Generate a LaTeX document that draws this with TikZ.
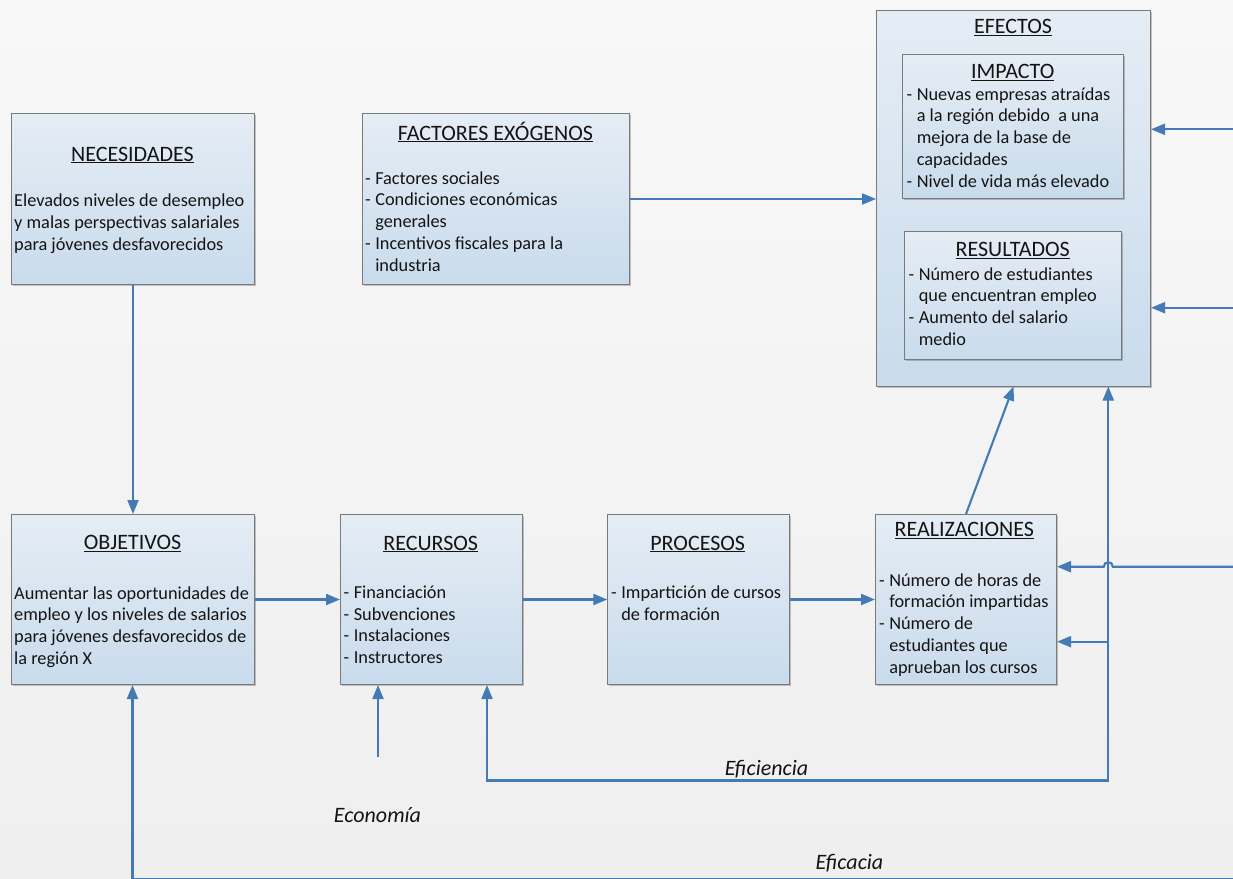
\documentclass[tikz,border=0pt]{standalone}
\usepackage{fontspec}
\setmainfont{Carlito}
\usetikzlibrary{arrows.meta,shadows,calc}

\definecolor{bgtop}{RGB}{248,248,248}
\definecolor{bgbot}{RGB}{239,239,239}
\definecolor{boxtop}{RGB}{229,237,245}
\definecolor{boxbot}{RGB}{201,219,236}
\definecolor{boxline}{RGB}{122,122,122}
\definecolor{linec}{RGB}{68,122,182}
\definecolor{inkc}{RGB}{20,20,20}

\newcommand\bodysize{\fontsize{18.3}{21.8}\selectfont}
\newcommand\titlesize{\fontsize{22}{24}\selectfont}
\newcommand\labelsize{\fontsize{22}{24}\selectfont}

\begin{document}
\begin{tikzpicture}[x=1pt,y=-1pt,
  box/.style={draw=boxline, line width=1pt, top color=boxtop, bottom color=boxbot,
    anchor=north west, inner sep=0pt,
    drop shadow={shadow xshift=1.6pt, shadow yshift=-1.6pt, opacity=0.22, fill=black}},
  ttl/.style={anchor=base, inner sep=0pt, text=inkc, font=\titlesize},
  txt/.style={anchor=base west, inner sep=0pt, text=inkc, font=\bodysize},
  lbl/.style={anchor=base, inner sep=0pt, text=inkc, font=\labelsize\itshape},
  tip/.tip={Triangle[length=14pt,width=11pt]},
  conn/.style={draw=linec, line width=2.1pt, -tip}]

\useasboundingbox (0,0) rectangle (1233,878);
\shade[top color=bgtop, bottom color=bgbot] (0,0) rectangle (1233,878);

% ---------- boxes ----------
\node[box, minimum width=243pt, minimum height=171pt] (nec) at (11,113) {};
\node[box, minimum width=267pt, minimum height=171pt] (fac) at (362,113) {};
\node[box, minimum width=274pt, minimum height=375.5pt] (eff) at (876,10) {};
\node[box, minimum width=221pt, minimum height=144pt] (imp) at (902,53.5) {};
\node[box, minimum width=217pt, minimum height=128pt] (res) at (904,231) {};
\node[box, minimum width=243pt, minimum height=170pt] (obj) at (11,514) {};
\node[box, minimum width=181.5pt, minimum height=170pt] (rec) at (340,514) {};
\node[box, minimum width=181.5pt, minimum height=170pt] (pro) at (607.3,514) {};
\node[box, minimum width=181pt, minimum height=170pt] (rea) at (875,514) {};

% ---------- titles ----------
\node[ttl] (necT) at (132.5,161) {\underline{NECESIDADES}};
\node[ttl] (facT) at (495.5,140) {\underline{FACTORES EXÓGENOS}};
\node[ttl] (effT) at (1013,33.3) {\underline{EFECTOS}};
\node[ttl] (impT) at (1012.7,78.7) {\underline{IMPACTO}};
\node[ttl] (resT) at (1012.7,256.7) {\underline{RESULTADOS}};
\node[ttl] (objT) at (132.5,549.5) {\underline{OBJETIVOS}};
\node[ttl] (recT) at (430.7,550) {\underline{RECURSOS}};
\node[ttl] (proT) at (697.7,550) {\underline{PROCESOS}};
\node[ttl] (reaT) at (964.3,536.7) {\underline{REALIZACIONES}};

% ---------- box texts ----------
\node[txt] (necB) at (14,206.7) {\begin{tabular}[t]{@{}l@{}}
  Elevados niveles de desempleo\\
  y malas perspectivas salariales\\
  para jóvenes desfavorecidos\end{tabular}};

\node[txt] (facB) at (365,184) {\begin{tabular}[t]{@{}l@{\hspace{4.5pt}}l@{}}
  -& Factores sociales\\
  -& Condiciones económicas\\
   & generales\\
  -& Incentivos fiscales para la\\
   & industria\end{tabular}};

\node[txt] (impB) at (906.5,100) {\begin{tabular}[t]{@{}l@{\hspace{4.5pt}}l@{}}
  -& Nuevas empresas atraídas\\
   & a la región debido\ \ a una\\
   & mejora de la base de\\
   & capacidades\\
  -& Nivel de vida más elevado\end{tabular}};

\node[txt] (resB) at (908.5,280) {\begin{tabular}[t]{@{}l@{\hspace{4.5pt}}l@{}}
  -& Número de estudiantes\\
   & que encuentran empleo\\
  -& Aumento del salario\\
   & medio\end{tabular}};

\node[txt] (objB) at (14,599) {\begin{tabular}[t]{@{}l@{}}
  Aumentar las oportunidades de\\
  empleo y los niveles de salarios\\
  para jóvenes desfavorecidos de\\
  la región X\end{tabular}};

\node[txt] (recB) at (343.5,598.3) {\begin{tabular}[t]{@{}l@{\hspace{4.5pt}}l@{}}
  -& Financiación\\
  -& Subvenciones\\
  -& Instalaciones\\
  -& Instructores\end{tabular}};

\node[txt] (proB) at (611,598.3) {\begin{tabular}[t]{@{}l@{\hspace{4.5pt}}l@{}}
  -& Impartición de cursos\\
   & de formación\end{tabular}};

\node[txt] (reaB) at (879,586) {\begin{tabular}[t]{@{}l@{\hspace{4.5pt}}l@{}}
  -& Número de horas de\\
   & formación impartidas\\
  -& Número de\\
   & estudiantes que\\
   & aprueban los cursos\end{tabular}};

% ---------- free labels ----------
\node[lbl] (eco) at (377.5,822.5) {Economía};
\node[lbl] (efi) at (766.5,775.5) {Eficiencia};
\node[lbl] (efa) at (849.5,869.5) {Eficacia};

% ---------- connector end points ----------
\coordinate (ecoTop) at (378,757);
\coordinate (effR1) at (1236,129.3);
\coordinate (effR2) at (1236,307.7);
\coordinate (reaR1) at (1236,566.7);
\coordinate (reaR2) at (1108.3,641.7);
\coordinate (loopR) at (1108.3,780.5);
\coordinate (loopL) at (487,780.5);
\coordinate (effaR) at (1236,878.7);
\coordinate (effaL) at (132.5,878.7);
\coordinate (jumpR) at (1112.8,566.7);
\coordinate (jumpL) at (1103.8,566.7);

% ---------- connectors ----------
\draw[conn] (nec.south) -- (obj.north);
\draw[conn] (fac.east) -- (fac.east -| eff.west);
\draw[conn] (obj.east) -- (rec.west);
\draw[conn] (rec.east) -- (pro.west);
\draw[conn] (pro.east) -- (rea.west);
\draw[conn] (rea.north) -- (eff.south);

\draw[conn] (effR1) -- (effR1 -| eff.east);
\draw[conn] (effR2) -- (effR2 -| eff.east);

% efficiency loop: outputs compared with resources, and up to the effects
\draw[conn, tip-tip]
  (loopL |- rec.south) -- (loopL) -- (loopR) -- (loopR |- eff.south);
\draw[conn] (reaR2) -- (reaR2 -| rea.east);

% line from the right hopping over the vertical one
\draw[conn] (reaR1) -- (jumpR)
  .. controls ($(jumpR)+(0,-6)$) and ($(jumpL)+(0,-6)$) .. (jumpL)
  -- (reaR1 -| rea.east);

\draw[conn] (ecoTop) -- (ecoTop |- rec.south);
\draw[conn] (effaR) -- (effaL) -- (effaL |- obj.south);

\end{tikzpicture}
\end{document}
